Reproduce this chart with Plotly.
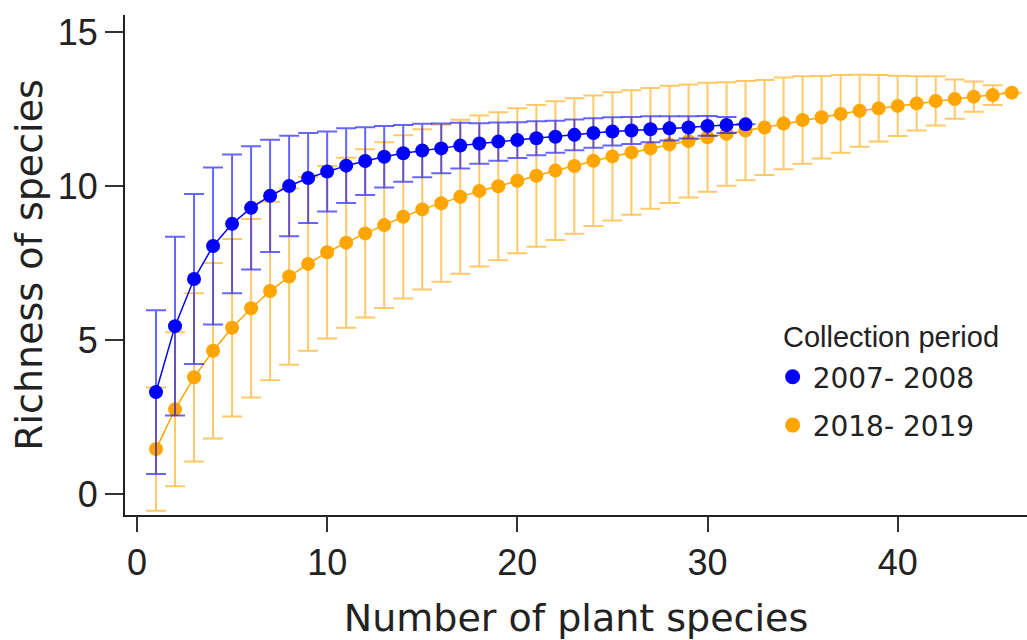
import plotly.graph_objects as go

# Sampling effort (number of plant species)
x_2007 = list(range(1, 33))
x_2018 = list(range(1, 47))

# Mean richness and standard deviation, 2007-2008
mean_2007 = [3.31, 5.45, 6.98, 8.05, 8.77, 9.29, 9.68, 10.0, 10.26, 10.47,
             10.66, 10.81, 10.95, 11.06, 11.15, 11.22, 11.31, 11.38, 11.44, 11.49,
             11.55, 11.6, 11.66, 11.72, 11.77, 11.8, 11.84, 11.87, 11.9, 11.95,
             11.98, 12.0]
sd_2007 = [2.66, 2.9, 2.76, 2.55, 2.25, 2.0, 1.82, 1.63, 1.46, 1.3,
           1.21, 1.1, 1.0, 0.92, 0.87, 0.81, 0.74, 0.66, 0.62, 0.58,
           0.55, 0.52, 0.5, 0.48, 0.46, 0.44, 0.42, 0.39, 0.36, 0.32,
           0.26, 0.0]

# Mean richness and standard deviation, 2018-2019
mean_2018 = [1.46, 2.75, 3.79, 4.65, 5.4, 6.03, 6.59, 7.06, 7.47, 7.85,
             8.16, 8.46, 8.73, 9.0, 9.24, 9.44, 9.65, 9.84, 9.99, 10.17,
             10.33, 10.5, 10.65, 10.82, 10.96, 11.09, 11.22, 11.35, 11.46, 11.58,
             11.69, 11.8, 11.9, 12.03, 12.14, 12.23, 12.34, 12.44, 12.52, 12.6,
             12.68, 12.76, 12.82, 12.9, 12.95, 13.03]
sd_2018 = [2.0, 2.5, 2.73, 2.85, 2.88, 2.9, 2.9, 2.86, 2.82, 2.8,
           2.76, 2.73, 2.69, 2.65, 2.6, 2.55, 2.5, 2.45, 2.4, 2.35,
           2.3, 2.25, 2.2, 2.12, 2.08, 2.02, 1.96, 1.9, 1.83, 1.77,
           1.68, 1.61, 1.54, 1.49, 1.42, 1.34, 1.26, 1.17, 1.08, 0.98,
           0.88, 0.8, 0.64, 0.49, 0.32, 0.0]

labels = ["2007- 2008", "2018- 2019"]
legend_title = "Collection period"
x_ticks = [0, 10, 20, 30, 40]
y_ticks = [0, 5, 10, 15]

BLUE = "#0000FF"
ORANGE = "#FFA500"

fig = go.Figure()

fig.add_trace(go.Scatter(
    x=x_2018, y=mean_2018, mode="lines+markers", showlegend=False,
    line=dict(color=ORANGE, width=1.5),
    marker=dict(color=ORANGE, size=14),
    error_y=dict(type="data", array=sd_2018, symmetric=True,
                 color="rgba(255,165,0,0.6)", thickness=2, width=10),
))
fig.add_trace(go.Scatter(
    x=x_2007, y=mean_2007, mode="lines+markers", showlegend=False,
    line=dict(color=BLUE, width=1.5),
    marker=dict(color=BLUE, size=14),
    error_y=dict(type="data", array=sd_2007, symmetric=True,
                 color="rgba(0,0,255,0.6)", thickness=2, width=10),
))

# legend entries
for name, col, grp in [(labels[0], BLUE, "a"), (labels[1], ORANGE, "b")]:
    fig.add_trace(go.Scatter(
        x=[None], y=[None], mode="markers", name=name, legendgroup=grp,
        marker=dict(color=col, size=15),
    ))

font_main = "DejaVu Sans, Verdana, sans-serif"
font_tick = "Liberation Sans, Arial, sans-serif"

fig.add_annotation(
    text=legend_title, xref="paper", yref="paper",
    x=0.727, y=0.356, xanchor="left", yanchor="middle", showarrow=False,
    font=dict(family="Liberation Sans, Arial, sans-serif", size=29, color="#222"),
)

fig.update_layout(
    width=1027, height=640,
    margin=dict(l=125, r=0, t=15, b=125),
    paper_bgcolor="white", plot_bgcolor="white",
    font=dict(family=font_main, color="#222"),
    legend=dict(
        x=0.718, y=0.326, xanchor="left", yanchor="top",
        bgcolor="rgba(0,0,0,0)",
        font=dict(family=font_main, size=28, color="#222"),
        tracegroupgap=9,
        itemwidth=30,
    ),
    xaxis=dict(
        range=[-0.63, 46.8], showgrid=False, zeroline=False,
        showline=True, linecolor="#222", linewidth=2,
        ticks="outside", ticklen=15, tickwidth=2, tickcolor="#333",
        tickvals=x_ticks, ticktext=[str(v) for v in x_ticks],
        tickfont=dict(family=font_tick, size=36, color="#222"),
        title=dict(text="Number of plant species",
                   font=dict(family=font_main, size=38, color="#222"),
                   standoff=25),
    ),
    yaxis=dict(
        range=[-0.68, 15.55], showgrid=False, zeroline=False,
        showline=True, linecolor="#222", linewidth=2,
        ticks="outside", ticklen=18, tickwidth=2, tickcolor="#333",
        tickvals=y_ticks, ticktext=[str(v) for v in y_ticks],
        tickfont=dict(family=font_tick, size=36, color="#222"),
        title=dict(text="Richness of species",
                   font=dict(family=font_main, size=38, color="#222"),
                   standoff=3),
    ),
)

fig.write_html("out.html")
